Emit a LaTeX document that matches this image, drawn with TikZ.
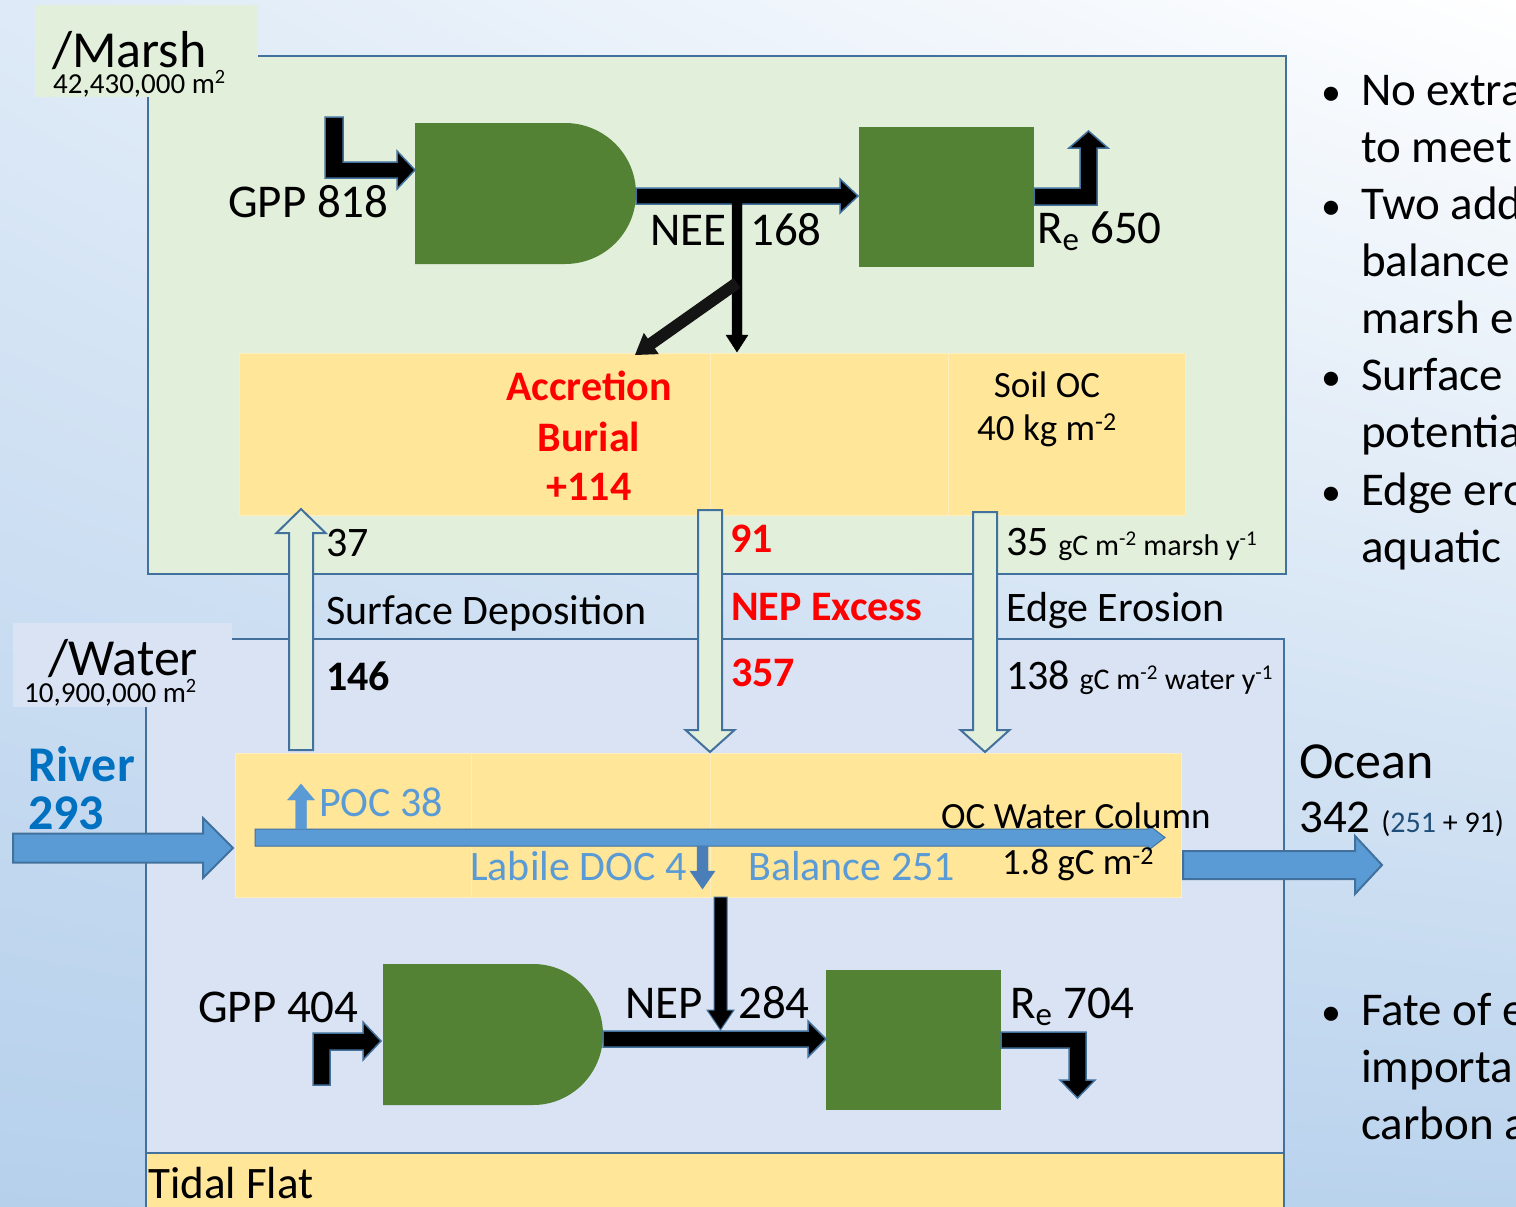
\documentclass[tikz,border=0pt]{standalone}
\usepackage{fontspec}
\setmainfont{Carlito}
\usetikzlibrary{shadings}
\definecolor{mgreen}{RGB}{226,239,218}
\definecolor{wblue}{RGB}{218,227,243}
\definecolor{soil}{RGB}{255,230,153}
\definecolor{divl}{RGB}{252,238,190}
\definecolor{leaf}{RGB}{84,130,53}
\definecolor{outl}{RGB}{65,113,156}
\definecolor{flow}{RGB}{91,155,213}
\definecolor{river}{RGB}{0,112,192}
\definecolor{doc}{RGB}{74,126,184}
\definecolor{darkb}{RGB}{31,78,121}
\definecolor{diag}{RGB}{20,20,20}
\definecolor{bgul}{RGB}{222,234,247}
\definecolor{bgur}{RGB}{255,255,255}
\definecolor{bgll}{RGB}{182,208,236}
\definecolor{bglr}{RGB}{186,211,237}
\newcommand\fsz[1]{\fontsize{#1}{#1}\selectfont}
% block arrows: [style]{x1}{x2}{y}{half shaft}{half head}{head length}, tip at x2
\newcommand\blkH[7][]{\filldraw[#1] ({#2},{#4-#5}) -- ({#3-(#7)},{#4-#5}) -- ({#3-(#7)},{#4-#6}) -- ({#3},{#4}) -- ({#3-(#7)},{#4+#6}) -- ({#3-(#7)},{#4+#5}) -- ({#2},{#4+#5}) -- cycle;}
% [style]{x}{y1}{y2}{half shaft}{half head}{head length}, tip at y2
\newcommand\blkV[7][]{\filldraw[#1] ({#2-#5},{#3}) -- ({#2-#5},{#4-(#7)}) -- ({#2-#6},{#4-(#7)}) -- ({#2},{#4}) -- ({#2+#6},{#4-(#7)}) -- ({#2+#5},{#4-(#7)}) -- ({#2+#5},{#3}) -- cycle;}
\begin{document}
\begin{tikzpicture}[x=1pt,y=-1pt,
  panel/.style={draw=outl, line width=2pt, anchor=north west, inner sep=0pt},
  box/.style={anchor=north west, inner sep=0pt},
  cell/.style={box, fill=soil, draw=divl, line width=1pt},
  txt/.style={anchor=base west, inner sep=0pt},
  ctr/.style={anchor=base, inner sep=0pt},
  blk/.style={fill=black, draw=outl, line width=1.5pt},
  hollow/.style={fill=mgreen, draw=outl, line width=2pt},
  bigflow/.style={fill=flow, draw=outl, line width=2pt}]
\clip (0,0) rectangle (1516,1207);
\shade[upper left=bgul, upper right=bgur, lower left=bgll, lower right=bglr] (0,0) rectangle (1516,1207);

% panels
\node[panel, fill=mgreen, minimum width=1138, minimum height=518] (marsh) at (147,55) {};
\node[box, fill=mgreen, minimum width=223, minimum height=92] (marshlbl) at (35,5) {};
\node[panel, fill=wblue, minimum width=1138, minimum height=514] (water) at (145,638) {};
\node[box, fill=wblue, minimum width=219, minimum height=84] (waterlbl) at (13,623) {};
\node[panel, fill=soil, minimum width=1138, minimum height=80] (flat) at (145,1152) {};

% soil and water column
\node[cell, minimum width=471, minimum height=162] (soilA) at (239,353) {};
\node[cell, minimum width=238, minimum height=162] (soilB) at (710,353) {};
\node[cell, minimum width=237, minimum height=162] (soilC) at (948,353) {};
\node[cell, minimum width=236, minimum height=144] (colA) at (235,753) {};
\node[cell, minimum width=239, minimum height=144] (colB) at (471,753) {};
\node[cell, minimum width=471, minimum height=144] (colC) at (710,753) {};

% plants
\fill[leaf] (415,123) -- (565,123) arc[start angle=-90, end angle=90, x radius=71, y radius=70.5] -- (415,264) -- cycle;
\coordinate (gppM) at (636,193.5);
\node[box, fill=leaf, minimum width=175, minimum height=140] (reM) at (859,127) {};
\fill[leaf] (383,964) -- (533,964) arc[start angle=-90, end angle=90, x radius=70, y radius=70.5] -- (383,1105) -- cycle;
\coordinate (gppW) at (603,1034.5);
\node[box, fill=leaf, minimum width=175, minimum height=140] (reW) at (826,970) {};

% marsh fluxes
\filldraw[blk] (325,117) -- (343,117) -- (343,162) -- (397,162) -- (397,151) -- (415,170) -- (397,189) -- (397,178) -- (325,178) -- cycle;
\blkH[blk]{636}{858}{196}{8}{17}{18}
\blkV[fill=black]{737}{200}{352}{5}{11}{17}
\fill[diag] (733.5,278.1) -- (647.8,338.6) -- (643.8,332.9) -- (635,355) -- (658.8,354.1) -- (654.8,348.4) -- (740.5,287.9) -- cycle;
\filldraw[blk] (1034,188) -- (1080,188) -- (1080,148) -- (1069,148) -- (1088.5,131) -- (1108,148) -- (1097,148) -- (1097,205) -- (1034,205) -- cycle;

% exchange
\blkV[hollow]{301}{750}{509}{12}{24.5}{-24}
\blkV[hollow]{710}{510}{752}{12}{24.5}{22}
\blkV[hollow]{985}{512}{752}{12}{24.5}{22}

% water fluxes
\blkH[bigflow]{13}{233}{848}{14.5}{30}{30}
\blkH[fill=flow, draw=outl, line width=1pt]{255}{1165}{837.5}{8.5}{13}{17}
\blkV[fill=flow, draw=flow]{301}{829}{784}{5.5}{13.5}{-16}
\blkV[fill=doc, draw=doc]{702.5}{846}{889}{5.5}{12.5}{18}
\blkH[bigflow]{1183}{1382}{865}{14}{29}{27}
\blkV[blk, line width=1pt]{720.5}{897}{1030}{6.5}{13.5}{20}
\blkH[blk]{603}{826}{1039}{8}{18}{18}
\filldraw[blk] (313,1085) -- (313,1033) -- (363,1033) -- (363,1022) -- (381,1041) -- (363,1060) -- (363,1050) -- (330,1050) -- (330,1085) -- cycle;
\filldraw[blk] (1001,1032) -- (1086,1032) -- (1086,1080) -- (1095,1080) -- (1077.5,1098) -- (1060,1080) -- (1069,1080) -- (1069,1048) -- (1001,1048) -- cycle;

% labels
\node[txt, font=\fsz{52}] (marshT) at (52,67) {/Marsh};
\node[txt, font=\fsz{29}] (marshA) at (53,93) {42,430,000 m\textsuperscript{2}};
\node[txt, font=\fsz{52}] (waterT) at (48,675) {/Water};
\node[txt, font=\fsz{29}] (waterA) at (24,702) {10,900,000 m\textsuperscript{2}};
\node[txt, font=\fsz{47}] (gppMT) at (228,217) {GPP 818};
\node[txt, font=\fsz{47}] (neeT) at (650,245) {NEE};
\node[txt, font=\fsz{47}] (neeV) at (750,245) {168};
\node[txt, font=\fsz{47}] (reMT) at (1037,243) {R\textsubscript{e} 650};
\node[ctr, font=\fsz{42}\bfseries, text=red] (accT) at (589,400) {Accretion};
\node[ctr, font=\fsz{42}\bfseries, text=red] (burT) at (589,451) {Burial};
\node[ctr, font=\fsz{42}\bfseries, text=red] (burV) at (589,500) {+114};
\node[ctr, font=\fsz{37}] (soilT) at (1047,397) {Soil OC};
\node[ctr, font=\fsz{37}] (soilV) at (1047,440) {40 kg m\textsuperscript{-2}};
\node[txt, font=\fsz{42}] (depM) at (326,556) {37};
\node[txt, font=\fsz{42}\bfseries, text=red] (nepM) at (730,552) {91};
\node[txt, font=\fsz{42}] (eroM) at (1006,555) {35 {\fsz{30}gC m\textsuperscript{-2} marsh y\textsuperscript{-1}}};
\node[txt, font=\fsz{42}] (depT) at (326,624) {Surface Deposition};
\node[txt, font=\fsz{42}\bfseries, text=red] (nepT) at (731,620) {NEP Excess};
\node[txt, font=\fsz{42}] (eroT) at (1006,621) {Edge Erosion};
\node[txt, font=\fsz{42}\bfseries] (depW) at (326,690) {146};
\node[txt, font=\fsz{42}\bfseries, text=red] (nepW) at (731,686) {357};
\node[txt, font=\fsz{42}] (eroW) at (1006,689) {138 {\fsz{30}gC m\textsuperscript{-2} water y\textsuperscript{-1}}};
\node[txt, font=\fsz{50}\bfseries, text=river] (rivT) at (28,781) {River};
\node[txt, font=\fsz{50}\bfseries, text=river] (rivV) at (28,829) {293};
\node[txt, font=\fsz{42}, text=flow] (pocT) at (319,816) {POC 38};
\node[txt, font=\fsz{42}, text=flow] (docT) at (470,880) {Labile DOC 4};
\node[txt, font=\fsz{42}, text=flow] (balT) at (748,880) {Balance 251};
\node[txt, font=\fsz{37}] (colT) at (941,828) {OC Water Column};
\node[txt, font=\fsz{37}] (colV) at (1002,874) {1.8 gC m\textsuperscript{-2}};
\node[txt, font=\fsz{52}] (oceanT) at (1299,778) {Ocean};
\node[txt, font=\fsz{47}] (oceanV) at (1299,832) {342 {\fsz{30}(\textcolor{darkb}{251} + 91)}};
\node[txt, font=\fsz{47}] (gppWT) at (198,1022) {GPP 404};
\node[txt, font=\fsz{47}] (nepWT) at (625,1018) {NEP};
\node[txt, font=\fsz{47}] (nepWV) at (738,1018) {284};
\node[txt, font=\fsz{47}] (reWT) at (1010,1018) {R\textsubscript{e} 704};
\node[txt, font=\fsz{45}] (flatT) at (148,1198) {Tidal Flat};

% notes
\foreach \y/\t in {105/No extra, 162/to meet, 219/Two add, 276/balance, 333/marsh e, 390/Surface, 447/potentia, 505/Edge ero, 562/aquatic, 1025/Fate of e, 1082/importa, 1139/carbon a}
  \node[txt, font=\fsz{47}] (note\y) at (1361,\y) {\t};
\foreach \y in {105,219,390,505,1025}
  \node[txt, font=\fsz{40}] (bul\y) at (1321,\y) {•};
\end{tikzpicture}
\end{document}
